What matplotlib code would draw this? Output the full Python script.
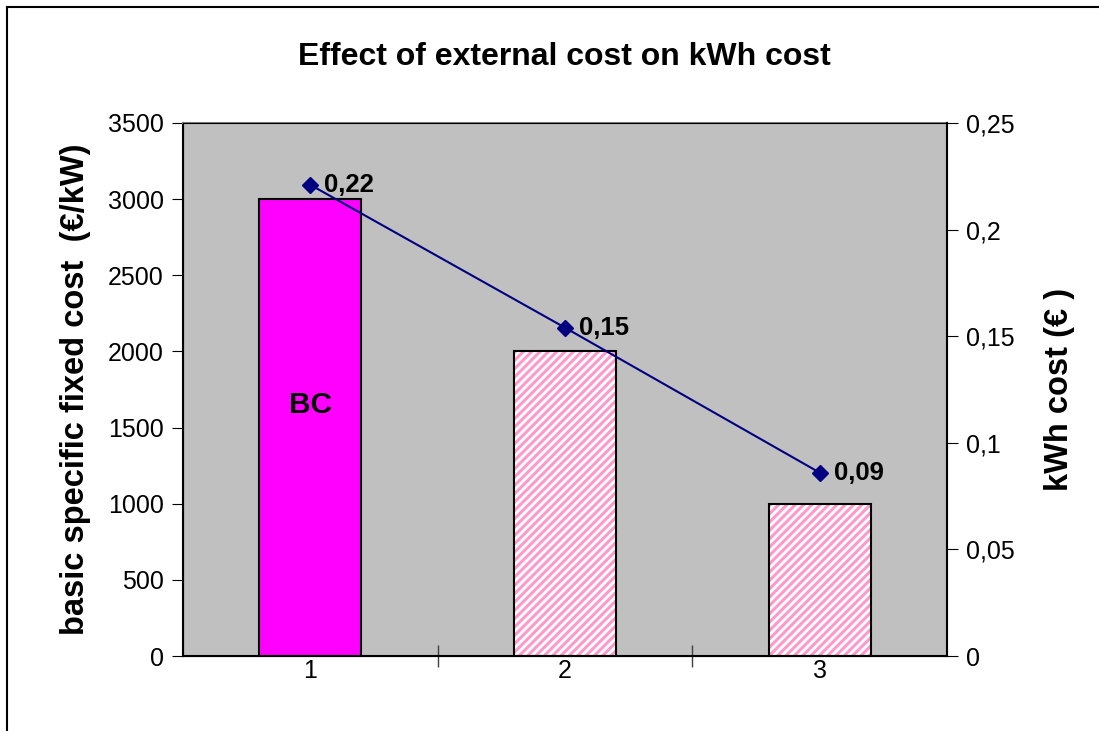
import matplotlib.pyplot as plt
import numpy as np

plt.rcParams['font.family'] = ['Liberation Sans', 'DejaVu Sans']
plt.rcParams['hatch.linewidth'] = 2.2

# data
categories = ['1', '2', '3']
fixed_cost = [3000, 2000, 1000]
kwh_cost = [0.221, 0.154, 0.086]
kwh_labels = ['0,22', '0,15', '0,09']
bar_styles = ['solid', 'hatch', 'hatch']

fig = plt.figure(figsize=(10.99, 7.31), dpi=100)
ax = fig.add_axes([183/1099, 1 - 656/731, (947-183)/1099, (656-123)/731])
ax.set_facecolor('#C0C0C0')

x = np.arange(len(categories))
for xi, val, st in zip(x, fixed_cost, bar_styles):
    if st == 'solid':
        ax.bar(xi, val, width=0.4, color='#FF00FF', edgecolor='black', linewidth=1.5, zorder=2)
    else:
        # pink diagonal stripes on white, then a black outline on top
        ax.bar(xi, val, width=0.4, color='white', edgecolor='#FF99CC', hatch='////', linewidth=0, zorder=2)
        ax.bar(xi, val, width=0.4, fill=False, edgecolor='black', linewidth=1.5, zorder=3)

ax.text(x[0], 1650, 'BC', ha='center', va='center', fontsize=21.5, fontweight='bold')

ax.set_xlim(-0.5, 2.5)
ax.set_ylim(0, 3500)
ax.set_yticks(np.arange(0, 3501, 500))
ax.set_xticks(x)
ax.set_xticklabels(categories)
ax.set_xticks([0.5, 1.5], minor=True)
ax.tick_params(axis='x', which='major', length=0, labelsize=18, pad=2)
ax.tick_params(axis='x', which='minor', direction='inout', length=16, width=1, color='#404040')
ax.tick_params(axis='y', direction='out', length=8, labelsize=18, pad=6)
ax.set_ylabel('basic specific fixed cost  (€/kW)', fontsize=23.5, fontweight='bold', labelpad=12)
ax.spines['top'].set_color('#808080')
ax.spines['right'].set_color('#808080')
for s in ax.spines.values():
    s.set_linewidth(1.5)

ax2 = ax.twinx()
ax2.plot(x, kwh_cost, color='#000080', lw=1.5, marker='D', markersize=8, zorder=4)
for xi, v, lab in zip(x, kwh_cost, kwh_labels):
    ax2.annotate(lab, (xi, v), xytext=(10, 0), textcoords='offset points',
                 fontsize=18.5, fontweight='bold', va='center', ha='left')
ax2.set_ylim(0, 0.25)
ax2.set_yticks(np.arange(0, 0.2501, 0.05))
ax2.set_yticklabels(['0', '0,05', '0,1', '0,15', '0,2', '0,25'])
ax2.tick_params(axis='y', direction='out', length=8, labelsize=18, pad=6)
ax2.set_ylabel('kWh cost (€ )', fontsize=23.5, fontweight='bold', labelpad=21)
ax2.spines['right'].set_color('black')
ax2.spines['right'].set_linewidth(1.5)

fig.text(564/1099, 1 - 57/731, 'Effect of external cost on kWh cost', ha='center', va='center',
         fontsize=23, fontweight='bold')

# outer frame (left and top visible)
fig.add_artist(plt.Line2D([7/1099, 7/1099], [0, 1 - 7/731], color='black', lw=1.5, transform=fig.transFigure))
fig.add_artist(plt.Line2D([7/1099, 1], [1 - 7/731, 1 - 7/731], color='black', lw=1.5, transform=fig.transFigure))

fig.savefig('out.png', dpi=100)
